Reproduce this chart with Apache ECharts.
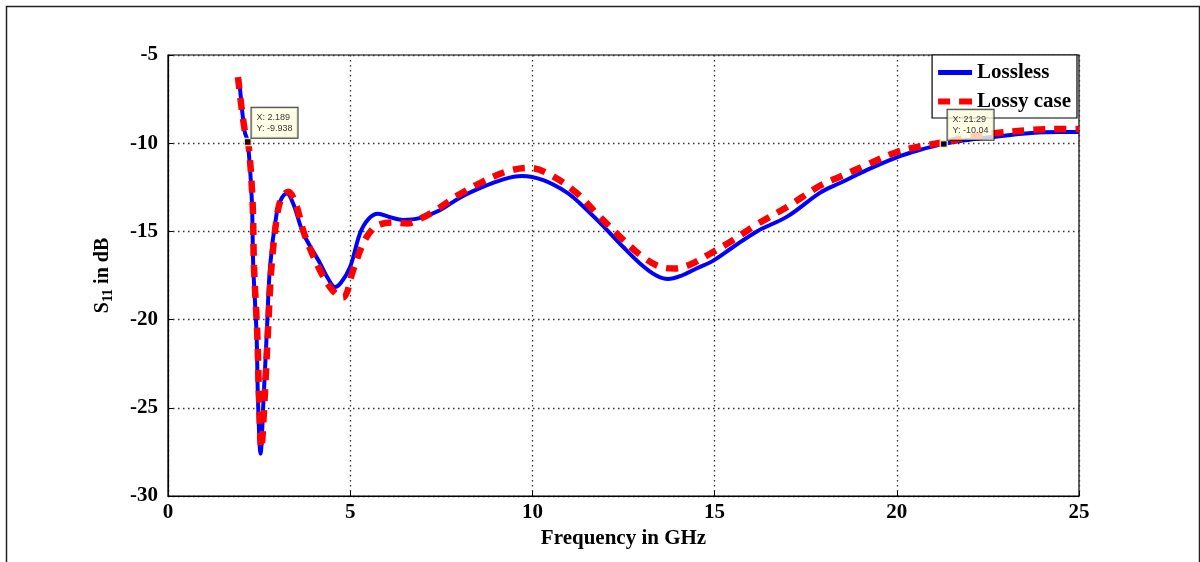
<!DOCTYPE html>
<html>
<head>
<meta charset="utf-8">
<script src="https://cdn.jsdelivr.net/npm/echarts@6/dist/echarts.min.js"></script>
<style>
html,body{margin:0;padding:0;background:#fff;}
#chart{width:1200px;height:562px;}
</style>
</head>
<body>
<div id="chart"></div>
<script>
// ---- data ----
var xTicks = [0, 5, 10, 15, 20, 25];
var yTicks = [-30, -25, -20, -15, -10, -5];

var freqLossless = [1.95, 2.1, 2.189, 2.3, 2.34, 2.43, 2.47, 2.54, 2.62, 2.71, 2.8, 2.98, 3.1, 3.26, 3.45, 3.71, 4.17, 4.4, 4.58, 4.75, 5.0, 5.27, 5.5, 5.76, 6.1, 6.45, 6.9, 7.46, 8.0, 8.56, 9.2, 9.71, 10.3, 10.95, 11.3, 11.85, 12.5, 13.0, 13.4, 13.72, 14.1, 14.5, 14.93, 15.5, 16.16, 17.0, 17.9, 18.44, 19.2, 20.0, 20.6, 21.29, 22.0, 22.6, 23.7, 24.5, 25.0];
var s11Lossless = [-6.3, -9.3, -9.938, -13.2, -17.0, -20.8, -24.6, -27.6, -24.6, -20.8, -17.0, -14.0, -13.2, -12.85, -13.5, -15.1, -16.8, -17.7, -18.15, -17.9, -17.0, -15.1, -14.3, -14.0, -14.2, -14.35, -14.25, -13.8, -13.1, -12.55, -12.05, -11.86, -12.1, -12.8, -13.4, -14.5, -15.9, -16.9, -17.5, -17.7, -17.5, -17.1, -16.7, -15.9, -15.0, -14.15, -12.8, -12.26, -11.5, -10.8, -10.4, -10.04, -9.8, -9.65, -9.42, -9.37, -9.37];

var freqLossy = [1.92, 2.1, 2.2, 2.32, 2.36, 2.45, 2.5, 2.56, 2.65, 2.74, 2.84, 3.0, 3.12, 3.3, 3.5, 3.75, 4.17, 4.5, 4.8, 5.08, 5.35, 5.6, 5.82, 6.2, 6.56, 6.9, 7.27, 8.0, 8.56, 9.3, 9.93, 10.5, 11.2, 11.77, 12.4, 13.0, 13.5, 13.9, 14.3, 14.93, 15.5, 16.16, 17.0, 17.9, 18.44, 19.2, 20.0, 20.6, 21.29, 22.0, 22.6, 23.7, 24.5, 25.0];
var s11Lossy = [-6.25, -9.2, -9.9, -13.3, -17.0, -20.8, -24.5, -27.3, -24.5, -20.8, -17.0, -14.0, -13.1, -12.75, -13.4, -15.2, -17.2, -18.3, -18.75, -17.2, -15.7, -14.9, -14.6, -14.5, -14.55, -14.3, -13.9, -12.9, -12.26, -11.6, -11.4, -11.8, -12.8, -14.0, -15.3, -16.4, -17.0, -17.1, -16.9, -16.2, -15.5, -14.6, -13.6, -12.4, -11.9, -11.2, -10.5, -10.2, -9.95, -9.65, -9.45, -9.25, -9.2, -9.2];

var tipX = [2.189, 21.29];
var tipY = [-9.938, -10.04];
var tipText = [['X: 2.189', 'Y: -9.938'], ['X: 21.29', 'Y: -10.04']];

function pairs(xs, ys) { return xs.map(function (x, i) { return [x, ys[i]]; }); }

var serif = '"Liberation Serif", "Times New Roman", serif';
var chart = echarts.init(document.getElementById('chart'));
var gridDots = { color: '#333', width: 1.3, type: [1.5, 3.5] };

chart.setOption({
  animation: false,
  backgroundColor: '#fff',
  graphic: [{
    type: 'rect', left: 4, top: 4, silent: true,
    shape: { width: 1193, height: 562 },
    style: { fill: 'none', stroke: '#222', lineWidth: 1.5 }
  }],
  grid: { left: 168, right: 121, top: 55, bottom: 66, show: true, borderColor: '#000', borderWidth: 1.2, backgroundColor: 'transparent' },
  legend: {
    data: [
      { name: 'Lossless', icon: 'path://M0,0H34V5H0Z' },
      { name: 'Lossy case', icon: 'path://M0,0H12V6H0Z M21,0H34V6H21Z' }
    ],
    orient: 'vertical',
    right: 123, top: 55,
    backgroundColor: '#fff', borderColor: '#000', borderWidth: 1.2,
    padding: [7, 6, 6, 6], itemGap: 8,
    itemWidth: 34, itemHeight: 6,
    textStyle: { fontFamily: serif, fontWeight: 'bold', fontSize: 21, color: '#000' }
  },
  xAxis: {
    type: 'value', min: xTicks[0], max: xTicks[xTicks.length - 1], interval: 5,
    name: 'Frequency in GHz', nameLocation: 'middle', nameGap: 27,
    nameTextStyle: { fontFamily: serif, fontWeight: 'bold', fontSize: 21, color: '#000' },
    axisLine: { show: true, lineStyle: { color: '#000', width: 1.2 } },
    axisTick: { show: true, inside: true, length: 5, lineStyle: { color: '#000' } },
    axisLabel: { margin: 6, fontFamily: serif, fontWeight: 'bold', fontSize: 21, color: '#000' },
    splitLine: { show: true, lineStyle: gridDots }
  },
  yAxis: {
    type: 'value', min: yTicks[0], max: yTicks[yTicks.length - 1], interval: 5,
    name: '{a|S}{b|11}{a| in dB}', nameLocation: 'middle', nameGap: 53, nameRotate: 90,
    nameTextStyle: {
      color: '#000',
      rich: {
        a: { fontFamily: serif, fontWeight: 'bold', fontSize: 20, color: '#000', lineHeight: 24 },
        b: { fontFamily: serif, fontWeight: 'bold', fontSize: 14, color: '#000', lineHeight: 24, verticalAlign: 'bottom', padding: [8, 0, 0, 0] }
      }
    },
    axisLine: { show: true, lineStyle: { color: '#000', width: 1.2 } },
    axisTick: { show: true, inside: true, length: 5, lineStyle: { color: '#000' } },
    axisLabel: { margin: 10, fontFamily: serif, fontWeight: 'bold', fontSize: 21, color: '#000' },
    splitLine: { show: true, lineStyle: gridDots }
  },
  series: [
    {
      name: 'Lossless', type: 'line', data: pairs(freqLossless, s11Lossless),
      smooth: 0.35, symbol: 'none', z: 3,
      lineStyle: { color: '#0000ff', width: 4 }, itemStyle: { color: '#0000ff' }
    },
    {
      name: 'Lossy case', type: 'line', data: pairs(freqLossy, s11Lossy),
      smooth: 0.35, symbol: 'none', z: 4,
      lineStyle: { color: '#ff0000', width: 6.5, type: [12, 9] }, itemStyle: { color: '#ff0000' }
    },
    {
      name: 'tips', type: 'scatter', z: 6,
      data: tipX.map(function (x, i) {
        return { value: [x, tipY[i]], label: { formatter: tipText[i].join('\n') } };
      }),
      symbol: 'rect', symbolSize: 7,
      itemStyle: { color: '#000', borderColor: '#ffffd0', borderWidth: 1.5 },
      label: {
        show: true, position: [8, -30], align: 'left', verticalAlign: 'top',
        fontFamily: '"Liberation Sans", Arial, sans-serif', fontSize: 9, lineHeight: 11, color: '#000',
        backgroundColor: '#ffffe1', borderColor: '#000', borderWidth: 1, padding: [4, 5, 4, 5]
      }
    }
  ]
});
</script>
</body>
</html>
